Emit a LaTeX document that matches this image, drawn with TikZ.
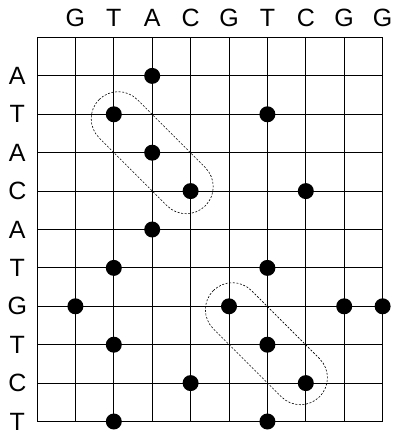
\documentclass[tikz,border=0pt]{standalone}
\usepackage{fontspec}
\setmainfont{Liberation Sans}
\begin{document}
\begin{tikzpicture}[x=1pt,y=1pt,
  gridline/.style={line width=1pt,black},
  dot/.style={circle,fill=black,minimum size=16pt,inner sep=0pt},
  seqlabel/.style={inner sep=0pt,font=\fontsize{25}{25}\selectfont},
  capsule/.style={dash pattern=on 2pt off 1.6pt,line width=0.6pt,rounded corners=27pt}]
\useasboundingbox (0,0) rectangle (393,-435);
\foreach \i in {0,...,9} {
  \foreach \j in {0,...,10} {
    \coordinate (g-\i-\j) at ({37+\i*38.4},{-37.5-\j*38.4});
  }
}
\foreach \i in {0,...,9} \draw[gridline] (g-\i-0) -- (g-\i-10);
\foreach \j in {0,...,10} \draw[gridline] (g-0-\j) -- (g-9-\j);
\foreach \l [count=\i] in {G,T,A,C,G,T,C,G,G}
  \node[seqlabel] (top-\i) at ({37+\i*38.4},-17.5) {\l};
\foreach \l [count=\j] in {A,T,A,C,A,T,G,T,C,T}
  \node[seqlabel] (left-\j) at (17.3,{-37.5-\j*38.4}) {\l};
\foreach \i/\j in {3/1,2/2,6/2,3/3,4/4,7/4,3/5,2/6,6/6,1/7,5/7,8/7,9/7,2/8,6/8,4/9,7/9,2/10,6/10}
  \node[dot] (d-\i-\j) at (g-\i-\j) {};
\begin{scope}[shift={(g-3-3)},rotate=-45]
  \draw[capsule] (-75.1,-27) rectangle (75.1,27);
\end{scope}
\begin{scope}[shift={(g-6-8)},shift={(-1,1)},rotate=-45]
  \draw[capsule] (-75.1,-27) rectangle (75.1,27);
\end{scope}
\end{tikzpicture}
\end{document}
